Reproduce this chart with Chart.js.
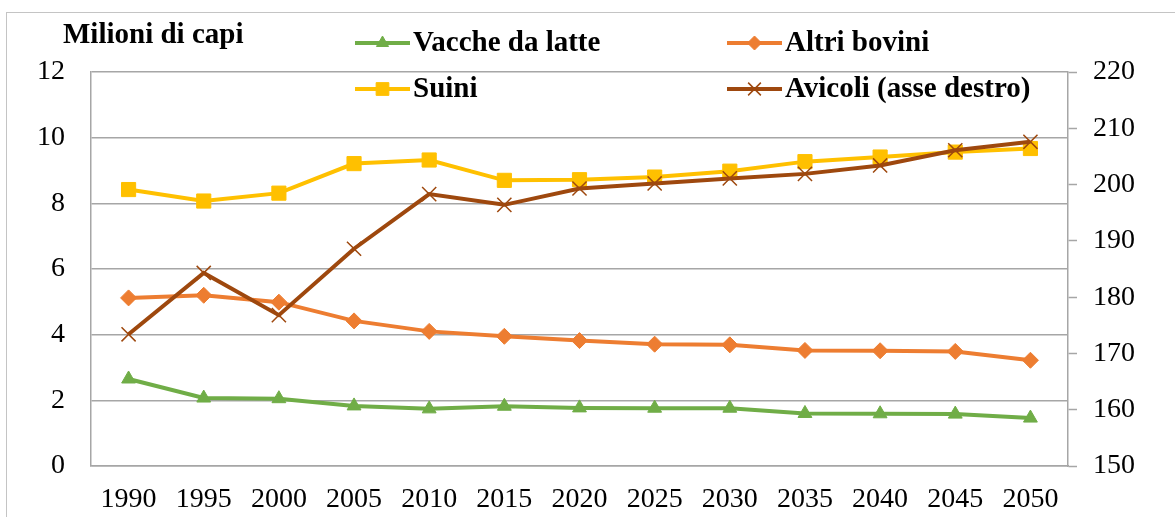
<!DOCTYPE html>
<html>
<head>
<meta charset="utf-8">
<script src="https://cdn.jsdelivr.net/npm/chart.js@4/dist/chart.umd.min.js"></script>
<style>
  html, body { margin: 0; padding: 0; background: #fff; overflow: hidden; }
  #frame { position: absolute; left: 6px; top: 12px; width: 1300px; height: 700px;
           border: 1.5px solid #c4c4c4; box-sizing: border-box; }
  #myChart { position: absolute; left: 0; top: 0; }
</style>
</head>
<body>
<div id="frame"></div>
<canvas id="myChart" width="1175" height="517"></canvas>
<script>
// data
var years = ['1990', '1995', '2000', '2005', '2010', '2015', '2020', '2025', '2030', '2035', '2040', '2045', '2050']
var vaccheDaLatte = [2.65, 2.07, 2.05, 1.83, 1.74, 1.82, 1.77, 1.76, 1.76, 1.60, 1.59, 1.58, 1.46]
var altriBovini = [5.12, 5.20, 4.99, 4.42, 4.10, 3.95, 3.82, 3.71, 3.69, 3.52, 3.51, 3.49, 3.22]
var suini = [8.42, 8.07, 8.31, 9.21, 9.32, 8.70, 8.72, 8.80, 8.98, 9.27, 9.41, 9.56, 9.67]
var avicoli = [173.4, 184.3, 176.8, 188.6, 198.3, 196.4, 199.3, 200.2, 201.1, 201.9, 203.4, 206.1, 207.6]
var seriesNames = ['Vacche da latte', 'Altri bovini', 'Suini', 'Avicoli (asse destro)']
var leftTicks = { min: 0, max: 12, step: 2 }
var rightTicks = { min: 150, max: 220, step: 10 }
var yTitle = 'Milioni di capi'

var green = '#70AD47'
var orange = '#ED7D31'
var yellow = '#FFC000'
var brown = '#9E480E'
var gridGray = '#a6a6a6'
var serif = "'Liberation Serif', 'Times New Roman', serif"

function makeSet(label, data, color, style, radius, axis, order) {
    return {
        label: label,
        data: data,
        yAxisID: axis,
        borderColor: color,
        backgroundColor: color,
        borderWidth: 4,
        pointStyle: style,
        pointRadius: radius,
        pointBackgroundColor: color,
        pointBorderColor: color,
        pointBorderWidth: style === 'crossRot' ? 1.5 : 1,
        tension: 0,
        order: order
    }
}

var datasets = [
    makeSet(seriesNames[0], vaccheDaLatte, green, 'triangle', 8, 'y', 3),
    makeSet(seriesNames[1], altriBovini, orange, 'rectRot', 8, 'y', 2),
    makeSet(seriesNames[2], suini, yellow, 'rect', 10, 'y', 1),
    makeSet(seriesNames[3], avicoli, brown, 'crossRot', 10, 'y1', 0)
]

// legend + axis title, drawn by hand because the legend sits over the plot
var legendSpots = [
    { x: 355, y: 43 }, { x: 727, y: 43 },
    { x: 355, y: 89 }, { x: 727, y: 89 }
]
var customLegend = {
    id: 'customLegend',
    afterDraw: function(chart) {
        var ctx = chart.ctx
        ctx.save()
        ctx.font = 'bold 29px ' + serif
        ctx.fillStyle = '#000'
        ctx.textBaseline = 'middle'
        ctx.textAlign = 'left'
        ctx.fillText(yTitle, 63, 36)
        datasets.forEach(function(ds, i) {
            var p = legendSpots[i]
            ctx.strokeStyle = ds.borderColor
            ctx.lineWidth = 4
            ctx.beginPath()
            ctx.moveTo(p.x, p.y)
            ctx.lineTo(p.x + 55, p.y)
            ctx.stroke()
            ctx.fillStyle = ds.borderColor
            ctx.lineWidth = ds.pointBorderWidth
            Chart.helpers.drawPoint(ctx, {
                pointStyle: ds.pointStyle,
                radius: ds.pointRadius - 1,
                rotation: 0,
                borderWidth: ds.pointBorderWidth
            }, p.x + 27.5, p.y)
            ctx.fillStyle = '#000'
            ctx.fillText(ds.label, p.x + 58, p.y + 1)
        })
        ctx.restore()
    }
}

var ctx = document.getElementById('myChart').getContext('2d')
var myChart = new Chart(ctx, {
    type: 'line',
    data: { labels: years, datasets: datasets },
    options: {
        responsive: false,
        animation: false,
        layout: { padding: { top: 72, left: 0, right: 0, bottom: 0 } },
        plugins: {
            legend: { display: false },
            tooltip: { enabled: false }
        },
        scales: {
            x: {
                offset: true,
                grid: { display: true, drawOnChartArea: false, drawTicks: false },
                border: { display: true, color: gridGray, width: 1.5 },
                ticks: { color: '#000', font: { family: serif, size: 28 }, padding: 17, maxRotation: 0, autoSkip: false },
                afterFit: function(scale) { scale.height = 51 }
            },
            y: {
                position: 'left',
                min: leftTicks.min,
                max: leftTicks.max,
                grid: { color: gridGray, lineWidth: 1.5, drawTicks: false },
                border: { display: true, color: gridGray, width: 1.5 },
                ticks: { stepSize: leftTicks.step, color: '#000', font: { family: serif, size: 28 }, padding: 26 },
                afterFit: function(scale) { scale.width = 91 }
            },
            y1: {
                position: 'right',
                min: rightTicks.min,
                max: rightTicks.max,
                grid: { drawOnChartArea: false, drawTicks: true, tickLength: 9, tickColor: gridGray, tickWidth: 1.5 },
                border: { display: true, color: gridGray, width: 1.5 },
                ticks: { stepSize: rightTicks.step, color: '#000', font: { family: serif, size: 28 }, padding: 16 },
                afterFit: function(scale) { scale.width = 107 }
            }
        }
    },
    plugins: [customLegend]
})
</script>
</body>
</html>
